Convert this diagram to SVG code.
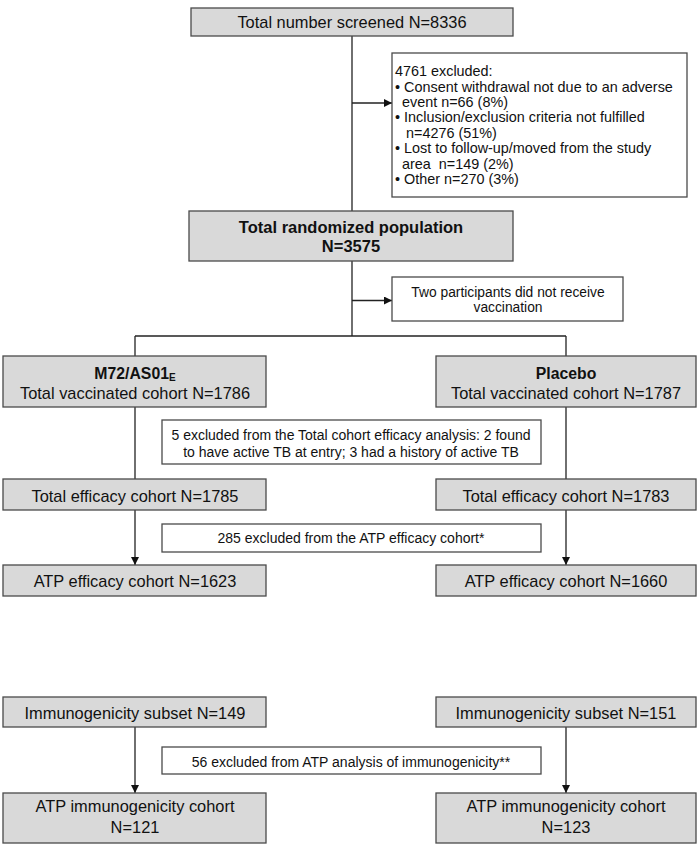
<svg xmlns="http://www.w3.org/2000/svg" width="700" height="850" viewBox="0 0 700 850">
<style>
.n{fill:#d9d9d9;stroke:#4a4a4a;stroke-width:1.3}
.w{fill:#ffffff;stroke:#4a4a4a;stroke-width:1.3}
text{font-family:"Liberation Sans",Arial,sans-serif;fill:#111}
.t{font-size:16.4px;text-anchor:middle}
.b{font-size:16.5px;font-weight:bold;text-anchor:middle}
.s{font-size:14px;text-anchor:middle}
.x{font-size:14.4px;white-space:pre}
.c line{stroke:#222;stroke-width:1.3}
</style>
<defs>
<marker id="ah" viewBox="0 0 10 10" refX="10" refY="5" markerWidth="8" markerHeight="8" markerUnits="userSpaceOnUse" orient="auto">
<path d="M0,0 L10,5 L0,10 z" fill="#111"/>
</marker>
</defs>
<rect width="700" height="850" fill="#ffffff"/>
<g class="c" id="connectors">
<line x1="352" y1="36" x2="352" y2="211"/>
<line x1="352" y1="103" x2="392" y2="103" marker-end="url(#ah)"/>
<line x1="352" y1="261" x2="352" y2="336"/>
<line x1="352" y1="300.5" x2="392" y2="300.5" marker-end="url(#ah)"/>
<line x1="135" y1="336" x2="566" y2="336"/>
<line x1="135" y1="336" x2="135" y2="356"/>
<line x1="566" y1="336" x2="566" y2="356"/>
<line x1="135" y1="407" x2="135" y2="479"/>
<line x1="566" y1="407" x2="566" y2="479"/>
<line x1="135" y1="510" x2="135" y2="565" marker-end="url(#ah)"/>
<line x1="566" y1="510" x2="566" y2="565" marker-end="url(#ah)"/>
<line x1="135" y1="727" x2="135" y2="793" marker-end="url(#ah)"/>
<line x1="566" y1="727" x2="566" y2="793" marker-end="url(#ah)"/>
</g>
<g id="screened">
<rect class="n" x="191" y="8" width="322" height="28"/>
<text class="t" x="352" y="28">Total number screened N=8336</text>
</g>
<g id="excluded4761">
<rect class="w" x="392" y="53" width="295" height="144"/>
<text class="x" x="395" y="76">4761 excluded:</text>
<text class="x" x="395" y="91.5">• Consent withdrawal not due to an adverse</text>
<text class="x" x="402" y="107">event n=66 (8%)</text>
<text class="x" x="395" y="122.3">• Inclusion/exclusion criteria not fulfilled</text>
<text class="x" x="406" y="137.7">n=4276 (51%)</text>
<text class="x" x="395" y="153">• Lost to follow-up/moved from the study</text>
<text class="x" x="402" y="168.5" xml:space="preserve">area  n=149 (2%)</text>
<text class="x" x="395" y="184">• Other n=270 (3%)</text>
</g>
<g id="randomized">
<rect class="n" x="189" y="211" width="324" height="50"/>
<text class="b" x="351" y="233">Total randomized population</text>
<text class="b" x="351" y="252">N=3575</text>
</g>
<g id="notvaccinated">
<rect class="w" x="392" y="277" width="231" height="44"/>
<text class="s" x="508" y="296.5" style="font-size:13.8px">Two participants did not receive</text>
<text class="s" x="508" y="312" style="font-size:13.8px">vaccination</text>
</g>
<g id="m72">
<rect class="n" x="3" y="356" width="263" height="51"/>
<text class="b" x="135" y="378.5" style="font-size:15.8px">M72/AS01<tspan font-size="10" dy="2">E</tspan></text>
<text class="t" x="135" y="398.5">Total vaccinated cohort N=1786</text>
</g>
<g id="placebo">
<rect class="n" x="436" y="356" width="260" height="51"/>
<text class="b" x="566" y="378.5" style="font-size:15.8px">Placebo</text>
<text class="t" x="566" y="398.5">Total vaccinated cohort N=1787</text>
</g>
<g id="excluded5">
<rect class="w" x="162" y="420" width="379" height="44"/>
<text class="s" x="351" y="440">5 excluded from the Total cohort efficacy analysis: 2 found</text>
<text class="s" x="351" y="456.5">to have active TB at entry; 3 had a history of active TB</text>
</g>
<g id="efficacyL">
<rect class="n" x="3" y="479" width="263" height="31"/>
<text class="t" x="135" y="501.5">Total efficacy cohort N=1785</text>
</g>
<g id="efficacyR">
<rect class="n" x="436" y="479" width="260" height="31"/>
<text class="t" x="566" y="501.5">Total efficacy cohort N=1783</text>
</g>
<g id="excluded285">
<rect class="w" x="162" y="524" width="379" height="28"/>
<text class="s" x="351" y="542.5">285 excluded from the ATP efficacy cohort*</text>
</g>
<g id="atpEffL">
<rect class="n" x="3" y="565" width="263" height="31"/>
<text class="t" x="135" y="587">ATP efficacy cohort N=1623</text>
</g>
<g id="atpEffR">
<rect class="n" x="436" y="565" width="260" height="31"/>
<text class="t" x="566" y="587">ATP efficacy cohort N=1660</text>
</g>
<g id="immunoL">
<rect class="n" x="3" y="697" width="263" height="30"/>
<text class="t" x="135" y="718.5">Immunogenicity subset N=149</text>
</g>
<g id="immunoR">
<rect class="n" x="436" y="697" width="260" height="30"/>
<text class="t" x="566" y="718.5">Immunogenicity subset N=151</text>
</g>
<g id="excluded56">
<rect class="w" x="162" y="747" width="379" height="27"/>
<text class="s" x="351" y="766.5">56 excluded from ATP analysis of immunogenicity**</text>
</g>
<g id="atpImmL">
<rect class="n" x="3" y="793" width="263" height="50"/>
<text class="t" x="135" y="811.5">ATP immunogenicity cohort</text>
<text class="t" x="135" y="833">N=121</text>
</g>
<g id="atpImmR">
<rect class="n" x="436" y="793" width="260" height="50"/>
<text class="t" x="566" y="811.5">ATP immunogenicity cohort</text>
<text class="t" x="566" y="833">N=123</text>
</g>
</svg>
